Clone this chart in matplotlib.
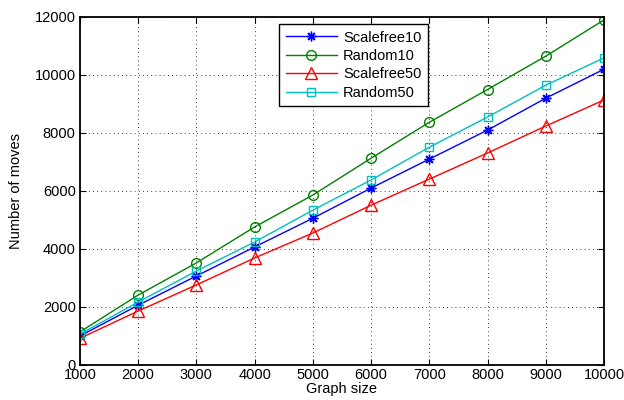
import matplotlib

matplotlib.use("Agg")
import matplotlib.pyplot as plt

plt.rcParams["font.family"] = ["Liberation Sans", "DejaVu Sans"]

graph_size = [1000, 2000, 3000, 4000, 5000, 6000, 7000, 8000, 9000, 10000]
scalefree10 = [1000, 2060, 3070, 4070, 5060, 6100, 7100, 8100, 9200, 10200]
random10 = [1140, 2410, 3520, 4760, 5860, 7130, 8370, 9500, 10650, 11900]
scalefree50 = [920, 1860, 2760, 3690, 4550, 5510, 6410, 7310, 8240, 9140]
random50 = [1060, 2170, 3240, 4240, 5340, 6380, 7510, 8550, 9650, 10590]

x_ticks = [1000, 2000, 3000, 4000, 5000, 6000, 7000, 8000, 9000, 10000]
y_ticks = [0, 2000, 4000, 6000, 8000, 10000, 12000]

fig = plt.figure(figsize=(6.24, 4.0), dpi=100)
ax = fig.add_axes([0.128, 0.0875, 0.840, 0.870])

ax.plot(graph_size, scalefree10, color="#0000ff", lw=1, marker=(8, 2, 0), ms=7,
        mew=1, label="Scalefree10")
ax.plot(graph_size, random10, color="#008000", lw=1, marker="o", ms=7,
        mfc="none", label="Random10")
ax.plot(graph_size, scalefree50, color="#ff0000", lw=1, marker="^", ms=8,
        mfc="none", label="Scalefree50")
ax.plot(graph_size, random50, color="#00bfbf", lw=1, marker="s", ms=5.5,
        mfc="none", label="Random50")

ax.set_xlim(1000, 10000)
ax.set_ylim(0, 12000)
ax.set_xticks(x_ticks)
ax.set_yticks(y_ticks)
ax.tick_params(direction="in", top=True, right=True, labelsize=10.5,
               length=4, pad=3)
ax.tick_params(axis="x", pad=2)
ax.grid(True, color="black", ls=(0, (1, 4)), lw=0.6)
for s in ax.spines.values():
    s.set_linewidth(1.3)

ax.set_xlabel("Graph size", fontsize=10.5, labelpad=0)
ax.set_ylabel("Number of moves", fontsize=10.5, labelpad=8)

leg = ax.legend(loc="upper left", bbox_to_anchor=(0.380, 0.980), fontsize=10.5,
                fancybox=False, edgecolor="black", framealpha=1,
                borderaxespad=0, handlelength=3.5, borderpad=0.45,
                labelspacing=0.3, handletextpad=0.45)
leg.get_frame().set_linewidth(1.0)

fig.savefig("out.png", dpi=100)
